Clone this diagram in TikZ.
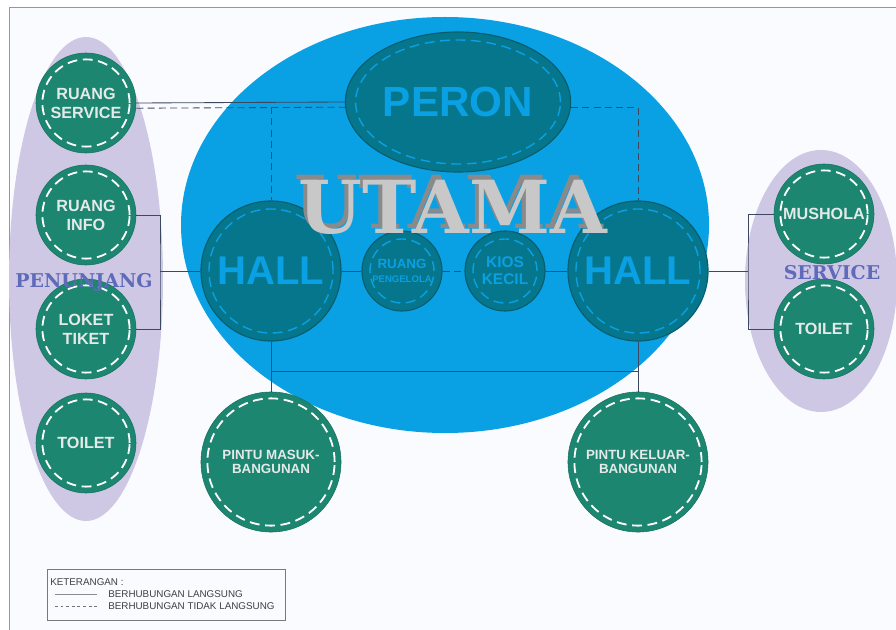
\documentclass[tikz,border=0pt]{standalone}
\usepackage{fontspec}
\setmainfont{Liberation Sans}
\newfontfamily\hurufhias{DejaVu Serif}
\usetikzlibrary{shapes.geometric,calc}

\definecolor{latar}{RGB}{250,251,254}
\definecolor{bingkai}{RGB}{150,150,156}
\definecolor{biru}{RGB}{10,160,228}
\definecolor{tosca}{RGB}{6,118,140}
\definecolor{hijau}{RGB}{29,134,112}
\definecolor{terang}{RGB}{228,234,234}
\definecolor{ungu}{RGB}{206,200,228}
\definecolor{ungutua}{RGB}{96,106,186}
\definecolor{garis}{RGB}{60,72,96}
\definecolor{abumuda}{RGB}{200,200,200}
\definecolor{abutua}{RGB}{138,138,138}

\newcommand{\berbayang}[1]{\rlap{\kern-1.1mm\raisebox{1.1mm}{\color{abutua}#1}}#1}

\begin{document}
\begin{tikzpicture}[x=0.025cm, y=-0.025cm,
        jahitan/.style={line width=1.3pt, dash pattern=on 7pt off 4pt},
        ruang/.style={
            circle,
            minimum size=#1,
            inner sep=0pt,
            align=center,
            fill=hijau,
            draw=hijau!85!black,
            text=terang,
            font=\bfseries\fontsize{11.5}{13.5}\selectfont,
            path picture={\draw[jahitan, white]
                (path picture bounding box.center) circle[radius=#1/2-0.16cm];}
        },
        ruang/.default=2.5cm,
        inti/.style={
            circle,
            minimum size=#1,
            inner sep=0pt,
            align=center,
            fill=tosca,
            draw=tosca!80!black,
            line width=0.8pt,
            text=biru,
            path picture={\draw[jahitan, biru, line width=1pt]
                (path picture bounding box.center) circle[radius=#1/2-0.2cm];}
        },
        langsung/.style={draw=garis, line width=0.6pt},
        taklangsung/.style={langsung, dash pattern=on 5pt off 3pt}
    ]
        \useasboundingbox (0,0) rectangle (896,630);
        \fill[white] (0,0) rectangle (896,630);
        \fill[latar] (9,7) rectangle (896,630);
        \draw[bingkai, line width=0.7pt] (9,630) -- (9,7) -- (896,7);

        \fill[ungu] (86,279) ellipse[x radius=77, y radius=242];
        \fill[ungu] (821,281) ellipse[x radius=76, y radius=131];
        \fill[biru] (445,225) ellipse[x radius=264, y radius=208];

        \node[ellipse, minimum width=5.63cm, minimum height=3.5cm, inner sep=0pt,
            fill=tosca, draw=tosca!80!black, line width=0.8pt, text=biru,
            font=\bfseries\fontsize{30}{32}\selectfont,
            path picture={\draw[jahitan, biru, line width=1pt]
                (path picture bounding box.center) ellipse[x radius=2.56cm, y radius=1.55cm];}]
            (peron) at (458,102) {PERON};

        \node[inti=3.5cm, font=\bfseries\fontsize{28.5}{30}\selectfont] (hallkiri) at (271,271) {HALL};
        \node[inti=3.5cm, font=\bfseries\fontsize{28.5}{30}\selectfont] (hallkanan) at (638,271) {HALL};
        \node[inti=2cm, font=\bfseries\fontsize{6.8}{10}\selectfont] (pengelola) at (402,271)
        {{\fontsize{9.5}{10}\selectfont RUANG}\\PENGELOLA};
        \node[inti=2cm, font=\bfseries\fontsize{11}{12}\selectfont] (kios) at (505,271) {KIOS\\KECIL};

        \node[ruang] (servis) at (86,103) {RUANG\\SERVICE};
        \node[ruang] (info) at (86,215) {RUANG\\INFO};
        \node[ruang] (loket) at (86,329) {LOKET\\TIKET};
        \node[ruang] (toiletkiri) at (86,443) {TOILET};
        \node[ruang] (mushola) at (824,214) {MUSHOLA};
        \node[ruang] (toiletkanan) at (824,329) {TOILET};
        \node[ruang=3.5cm, font=\bfseries\fontsize{9.5}{10.5}\selectfont] (masuk) at (271,462)
        {PINTU MASUK-\\BANGUNAN};
        \node[ruang=3.5cm, font=\bfseries\fontsize{9.5}{10.5}\selectfont] (keluar) at (638,462)
        {PINTU KELUAR-\\BANGUNAN};

        \draw[langsung] (servis.east) -- (peron.west);
        \draw[taklangsung] ([yshift=-0.13cm]servis.east) -- ([yshift=-0.13cm]peron.west)
            coordinate (ujungperon);
        \draw[taklangsung] (hallkiri.north |- ujungperon) -- (hallkiri.north);
        \draw[taklangsung] ([yshift=-0.13cm]peron.east) -| (hallkanan.north);

        \coordinate (kurungkiri) at (160,271);
        \coordinate (kurungkanan) at (748,271);
        \draw[langsung] (info.east) -| (kurungkiri) |- (loket.east);
        \draw[langsung] (kurungkiri) -- (hallkiri.west);
        \draw[langsung] (mushola.west) -| (kurungkanan) |- (toiletkanan.west);
        \draw[langsung] (hallkanan.east) -- (kurungkanan);

        \draw[langsung] (hallkiri.east) -- (pengelola.west);
        \draw[taklangsung] (pengelola.east) -- (kios.west);
        \draw[langsung] (kios.east) -- (hallkanan.west);
        \draw[langsung] (hallkiri.south) -- (masuk.north);
        \draw[langsung] (hallkanan.south) -- (keluar.north);
        \draw[langsung] ($(hallkiri.south)!.6!(masuk.north)$) -- ($(hallkanan.south)!.6!(keluar.north)$);

        \node[text=ungutua, font=\hurufhias\bfseries\fontsize{13.5}{14}\selectfont] (penunjang) at (84,282) {PENUNJANG};
        \node[text=ungutua, font=\hurufhias\bfseries\fontsize{13.5}{14}\selectfont] (layanan) at (832,273) {SERVICE};
        \node[text=abumuda, font=\hurufhias\bfseries\fontsize{52}{54}\selectfont] (utama) at (453,205) {\berbayang{UTAMA}};

        \node[draw=bingkai!80!black, line width=0.6pt, minimum width=5.95cm, minimum height=1.275cm,
            inner sep=0pt] (kotak) at (166,594.5) {};
        \node[anchor=west, inner sep=0pt, font=\fontsize{7}{8}\selectfont, text=black!75] (judul) at (50,582) {KETERANGAN :};
        \node[anchor=west, inner sep=0pt, font=\fontsize{7}{8}\selectfont, text=black!75] (ket1) at (108,594) {BERHUBUNGAN LANGSUNG};
        \node[anchor=west, inner sep=0pt, font=\fontsize{7}{8}\selectfont, text=black!75] (ket2) at (108,606) {BERHUBUNGAN TIDAK LANGSUNG};
        \draw[draw=black!45, line width=0.5pt] (55,594) -- (97,594);
        \draw[draw=black!55, line width=0.6pt, dash pattern=on 2pt off 2pt] (55,606) -- (97,606);
    \end{tikzpicture}
\end{document}
